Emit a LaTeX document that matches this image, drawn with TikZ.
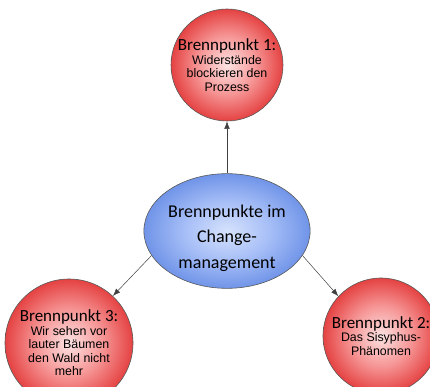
\documentclass[tikz,border=0pt]{standalone}
\usepackage{fontspec}
\usetikzlibrary{shapes.geometric,arrows.meta}
\newfontfamily\headfont{Carlito}
\newfontfamily\bodyfont{Liberation Sans}
\definecolor{rotinnen}{RGB}{252,226,226}
\definecolor{rotmitte}{RGB}{246,150,150}
\definecolor{rotaussen}{RGB}{229,66,66}
\definecolor{blauinnen}{RGB}{214,226,252}
\definecolor{blaumitte}{RGB}{166,190,247}
\definecolor{blauaussen}{RGB}{112,148,232}
\pgfdeclareradialshading{rotkugel}{\pgfpoint{0bp}{0bp}}{color(0bp)=(rotinnen); color(13bp)=(rotmitte); color(25bp)=(rotaussen); color(50bp)=(rotaussen)}
\pgfdeclareradialshading{blaukugel}{\pgfpoint{0bp}{0bp}}{color(0bp)=(blauinnen); color(13bp)=(blaumitte); color(25bp)=(blauaussen); color(50bp)=(blauaussen)}
\newcommand{\kopf}[1]{{\headfont\fontsize{17}{18}\selectfont #1}}

\begin{document}
\begin{tikzpicture}[
    x=1pt, y=-1pt,
    punkt/.style ={
        circle,
        shading=rotkugel,
        draw=black!65,
        line width=0.6pt,
        inner sep=0pt,
        align=center,
        font=\bodyfont\fontsize{12.4}{13.5}\selectfont
    },
    mitte/.style ={
        ellipse,
        shading=blaukugel,
        draw=black!65,
        line width=0.6pt,
        inner sep=0pt,
        minimum width=160pt,
        minimum height=103pt,
        align=center,
        font=\headfont\fontsize{18}{25.5}\selectfont
    },
    pfeil/.style ={
        -{Latex[length=7.5pt,width=5.5pt]},
        draw=black!75,
        line width=0.5pt
    }
    ]
    \useasboundingbox (0,0) rectangle (430,387);

    \node[mitte] (zentrum) at (227,231) {\rule{0pt}{27pt}Brennpunkte im\\Change-\\management};

    \node[punkt, minimum size=112pt] (b1) at (227,65)
        {\kopf{Brennpunkt 1:}\\Widerstände\\blockieren den\\Prozess};
    \node[punkt, minimum size=116pt] (b2) at (381,336)
        {\kopf{Brennpunkt 2:}\\Das Sisyphus-\\Phänomen};
    \node[punkt, minimum size=128pt] (b3) at (69,343)
        {\kopf{Brennpunkt 3:}\\Wir sehen vor\\lauter Bäumen\\den Wald nicht\\mehr};

    \foreach \dst/ \von/ \nach in {b1/90/270, b3/198/47, b2/342/137}
        \draw[pfeil] (zentrum.\von) -- (\dst.\nach);
\end{tikzpicture}
\end{document}
